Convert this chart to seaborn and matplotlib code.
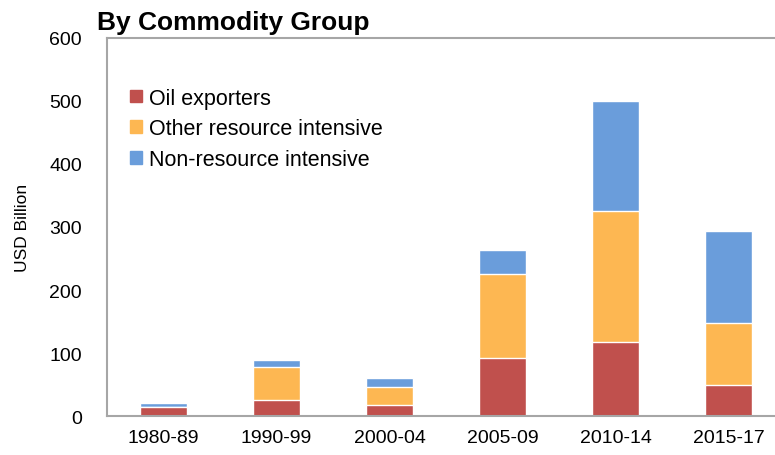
import numpy as np
import pandas as pd
import matplotlib
matplotlib.use("Agg")
import matplotlib.pyplot as plt
import seaborn as sns
from matplotlib.patches import Patch

sns.set_style("white")
plt.rcParams['font.family'] = ['Liberation Sans', 'DejaVu Sans']
plt.rcParams['text.color'] = 'black'
plt.rcParams['axes.labelcolor'] = 'black'

periods = ["1980-89", "1990-99", "2000-04", "2005-09", "2010-14", "2015-17"]
oil = [14, 25, 17, 92, 118, 50]
other = [1, 53, 29, 134, 208, 97]
non_resource = [5, 11, 14, 37, 174, 147]

df = pd.DataFrame({
    "period": periods,
    "oil": oil,
    "other": other,
    "non": non_resource,
})
df["oil_other"] = df["oil"] + df["other"]
df["total"] = df["oil_other"] + df["non"]

red = "#C0504D"
orange = "#FDB752"
blue = "#6A9DDB"

fig = plt.figure(figsize=(7.75, 4.56), dpi=100)
ax = fig.add_axes([0.138, 0.0855, 0.875, 0.829])

# draw from the top of the stack down so each layer covers the one below
sns.barplot(data=df, x="period", y="total", color=blue, width=0.41,
            saturation=1, ax=ax)
sns.barplot(data=df, x="period", y="oil_other", color=orange, width=0.41,
            saturation=1, ax=ax)
sns.barplot(data=df, x="period", y="oil", color=red, width=0.41,
            saturation=1, ax=ax)

ax.set_ylim(0, 600)
ax.set_yticks(range(0, 601, 100))
ax.set_xlim(-0.5, 5.5)
ax.set_xlabel("")
ax.set_ylabel("USD Billion", fontsize=12.5, labelpad=14)
ax.tick_params(axis="both", length=0, labelsize=14, colors="black")
ax.tick_params(axis="x", pad=9)
ax.tick_params(axis="y", pad=18)

for s in ax.spines.values():
    s.set_color("#A6A6A6")
    s.set_linewidth(1.5)
ax.spines["right"].set_visible(False)

handles = [Patch(color=red, label="Oil exporters"),
           Patch(color=orange, label="Other resource intensive"),
           Patch(color=blue, label="Non-resource intensive")]
ax.legend(handles=handles, loc="upper left", bbox_to_anchor=(0.005, 0.92),
          frameon=False, fontsize=15.5, handlelength=0.55, handleheight=0.55,
          handletextpad=0.35, labelspacing=0.45, labelcolor="black")

fig.text(0.125, 0.975, "By Commodity Group", fontsize=19, fontweight="bold",
         va="top", ha="left", color="black")

fig.savefig("out.png", dpi=100)
